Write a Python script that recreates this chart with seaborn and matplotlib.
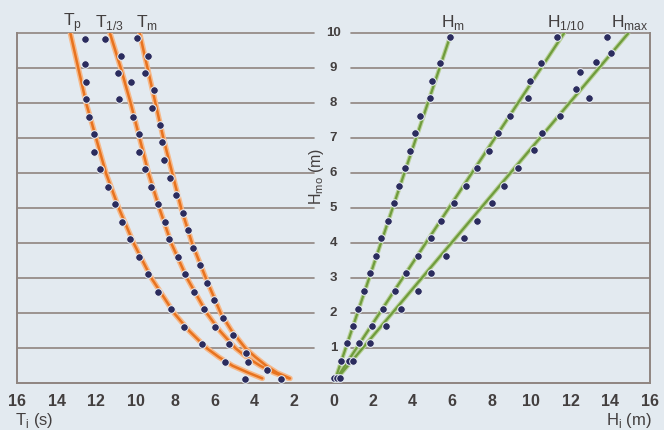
import numpy as np
import matplotlib
matplotlib.use("Agg")
import matplotlib.pyplot as plt
import seaborn as sns

# measured points, left half: periods T (s) against Hmo (m)
tp_h = [9.84, 9.11, 8.62, 8.12, 7.62, 7.11, 6.62, 6.12, 5.62, 5.11, 4.62, 4.12, 3.62, 3.11, 2.62, 2.11, 1.62, 1.12, 0.62, 0.11]
tp_t = [12.56, 12.56, 12.51, 12.51, 12.34, 12.09, 12.09, 11.80, 11.38, 11.04, 10.70, 10.31, 9.82, 9.40, 8.85, 8.20, 7.54, 6.65, 5.47, 4.46]

t13_h = [9.84, 9.36, 8.86, 8.62, 8.12, 7.62, 7.11, 6.62, 6.12, 5.62, 5.11, 4.62, 4.12, 3.62, 3.11, 2.62, 2.11, 1.62, 1.12, 0.62, 0.11]
t13_t = [11.54, 10.75, 10.87, 10.23, 10.82, 10.14, 9.81, 9.81, 9.52, 9.23, 8.89, 8.53, 8.30, 7.86, 7.49, 7.04, 6.57, 6.01, 5.30, 4.32, 2.65]

tm_h = [9.86, 9.36, 8.86, 8.38, 7.87, 7.39, 6.89, 6.38, 5.87, 5.38, 4.87, 4.38, 3.87, 3.38, 2.87, 2.38, 1.87, 1.38, 0.87, 0.38]
tm_t = [9.91, 9.40, 9.52, 9.06, 9.18, 8.79, 8.67, 8.56, 8.29, 7.97, 7.61, 7.36, 7.12, 6.77, 6.40, 6.03, 5.61, 5.08, 4.41, 3.36]

# fitted curves
fit_h = [0.14, 0.3, 0.5, 0.75, 1, 1.5, 2, 3, 4, 5, 6, 7, 8, 9, 10]
fit_tp = [3.6, 4.3, 5.1, 5.8, 6.4, 7.3, 8.05, 9.2, 10.1, 10.85, 11.5, 12.0, 12.5, 12.9, 13.3]
fit_t13 = [2.25, 3.0, 3.7, 4.4, 4.95, 5.75, 6.4, 7.4, 8.2, 8.8, 9.35, 9.8, 10.25, 10.75, 11.3]
fit_tm = [2.2, 2.85, 3.4, 3.95, 4.45, 5.15, 5.7, 6.45, 7.15, 7.7, 8.15, 8.6, 9.0, 9.4, 9.8]

# measured points, right half: heights Hi (m) against Hmo (m)
h_hmo = [9.89, 9.14, 8.64, 8.16, 7.64, 7.14, 6.64, 6.16, 5.65, 5.14, 4.65, 4.14, 3.65, 3.14, 2.64, 2.12, 1.64, 1.14, 0.64, 0.16]
hm_h = [5.91, 5.37, 4.98, 4.86, 4.39, 4.14, 3.89, 3.59, 3.33, 3.05, 2.76, 2.42, 2.17, 1.83, 1.53, 1.23, 0.97, 0.69, 0.39, 0.02]
h110_h = [11.30, 10.49, 9.95, 9.83, 8.94, 8.30, 7.88, 7.26, 6.70, 6.11, 5.45, 4.92, 4.28, 3.69, 3.11, 2.52, 1.94, 1.31, 0.77, 0.18]
hmax_hmo = [9.90, 9.43, 9.17, 8.90, 8.41, 8.14, 7.65, 7.14, 6.67, 6.16, 5.65, 5.14, 4.64, 4.14, 3.65, 3.14, 2.64, 2.12, 1.64, 1.14, 0.64, 0.14]
hmax_h = [13.82, 14.04, 13.28, 12.47, 12.25, 12.93, 11.43, 10.56, 10.13, 9.33, 8.64, 8.02, 7.26, 6.60, 5.71, 4.95, 4.27, 3.39, 2.63, 1.83, 1.00, 0.35]

# straight fits (end points)
line_hmo = [0.05, 10]
line_hm = [0.05, 5.95]
line_h110 = [0.05, 11.65]
line_hmax = [0.05, 14.9]

xticks = list(range(-16, 17, 2))
xtick_labels = [str(abs(v)) for v in xticks]
ylevels = list(range(1, 11))

bg = "#e3eaf0"
grid_c = "#8f8580"
navy = "#2b2c5e"
orange = "#e8731f"
orange_glow = "#f6b98a"
green = "#6f9c3c"
green_glow = "#b9d19a"
txt = "#433f3f"

sns.set_style("white")
plt.rcParams["font.family"] = ["Liberation Sans", "DejaVu Sans"]

fig = plt.figure(figsize=(6.64, 4.30), dpi=100, facecolor=bg)
ax = fig.add_axes([17/664, 1-383.3/430, (650-17)/664, 350/430])
ax.set_facecolor(bg)

# grid lines, broken around the central labels
for y in ylevels:
    ax.plot([-16, -1.0], [y, y], color=grid_c, lw=1.2, zorder=1, clip_on=False)
    ax.plot([0.86, 16], [y, y], color=grid_c, lw=1.2, zorder=1, clip_on=False)

# curves
for vals in [fit_tp, fit_t13, fit_tm]:
    neg = [-v for v in vals]
    sns.lineplot(x=neg, y=fit_h, sort=False, estimator=None, color=orange_glow,
                 linewidth=4.0, ax=ax, zorder=2, legend=False)
    sns.lineplot(x=neg, y=fit_h, sort=False, estimator=None, color=orange,
                 linewidth=1.8, ax=ax, zorder=3, legend=False)
for vals in [line_hm, line_h110, line_hmax]:
    sns.lineplot(x=vals, y=line_hmo, sort=False, estimator=None, color=green_glow,
                 linewidth=3.2, ax=ax, zorder=2, legend=False)
    sns.lineplot(x=vals, y=line_hmo, sort=False, estimator=None, color=green,
                 linewidth=1.6, ax=ax, zorder=3, legend=False)

# dots
for xs, ys in [(tp_t, tp_h), (t13_t, t13_h), (tm_t, tm_h)]:
    sns.scatterplot(x=[-v for v in xs], y=ys, color=navy, s=30, edgecolor="#eef3f7",
                    linewidth=0.7, ax=ax, zorder=5, clip_on=False)
for xs, ys in [(hm_h, h_hmo), (h110_h, h_hmo), (hmax_h, hmax_hmo)]:
    sns.scatterplot(x=xs, y=ys, color=navy, s=30, edgecolor="#eef3f7",
                    linewidth=0.7, ax=ax, zorder=5, clip_on=False)

ax.set_xlim(-16, 16)
ax.set_ylim(0, 10)
ax.set_xticks(xticks)
ax.set_xticklabels(xtick_labels, fontsize=11.5, fontweight="bold", color=txt)
ax.set_yticks([])
ax.tick_params(axis="x", direction="out", length=3, width=1, color=grid_c, pad=5)
for side in ["left", "right", "bottom"]:
    ax.spines[side].set_color(grid_c)
    ax.spines[side].set_linewidth(1.4)
ax.spines["top"].set_visible(False)

# central y labels
for y in ylevels:
    ax.text(0, y, str(y), ha="center", va="center", fontsize=9.5,
            fontweight="bold", color=txt)
ax.text(-0.85, 5.9, "H$_\\mathregular{mo}$ (m)", rotation=90, ha="center",
        va="center", fontsize=11.5, color=txt)

# series labels on top
top_labels = [(-13.2, "T$_\\mathregular{p}$"), (-11.3, "T$_\\mathregular{1/3}$"),
              (-9.45, "T$_\\mathregular{m}$"), (6.05, "H$_\\mathregular{m}$"),
              (11.75, "H$_\\mathregular{1/10}$"), (15.0, "H$_\\mathregular{max}$")]
for x, s in top_labels:
    ax.text(x, 10.3, s, ha="center", va="center", fontsize=12.5, color=txt)

ax.set_xlabel("")
ax.set_ylabel("")
fig.text(15/664, 1-421/430, "T$_\\mathregular{i}$ (s)", ha="left", va="center",
         fontsize=12, color=txt)
fig.text(652/664, 1-420/430, "H$_\\mathregular{i}$ (m)", ha="right", va="center",
         fontsize=12, color=txt)

fig.savefig("out.png", dpi=100, facecolor=bg)
